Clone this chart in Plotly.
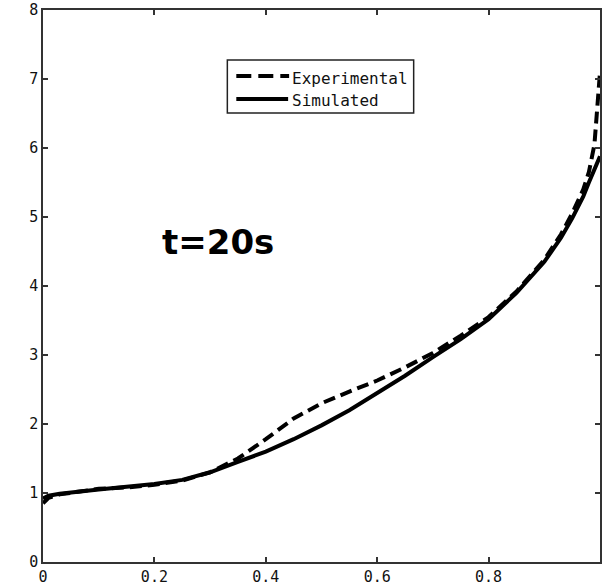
import plotly.graph_objects as go

# Normalised position along the sample and the measured / computed profile
x_exp = [0, 0.01, 0.03, 0.06, 0.1, 0.15, 0.2, 0.25, 0.3, 0.35, 0.38, 0.4, 0.45,
         0.5, 0.55, 0.6, 0.65, 0.7, 0.75, 0.8, 0.85, 0.9, 0.93, 0.95, 0.97,
         0.98, 0.99, 0.995, 1.0]
y_exp = [0.85, 0.93, 0.98, 1.02, 1.06, 1.08, 1.12, 1.18, 1.30, 1.50, 1.66, 1.78,
         2.08, 2.30, 2.47, 2.63, 2.82, 3.03, 3.28, 3.55, 3.92, 4.38, 4.75, 5.05,
         5.40, 5.65, 6.05, 6.50, 7.10]

x_sim = [0, 0.01, 0.03, 0.06, 0.1, 0.15, 0.2, 0.25, 0.3, 0.35, 0.4, 0.45, 0.5,
         0.55, 0.6, 0.65, 0.7, 0.75, 0.8, 0.85, 0.9, 0.93, 0.95, 0.97, 0.98,
         0.99, 1.0]
y_sim = [0.92, 0.96, 0.99, 1.02, 1.05, 1.09, 1.13, 1.19, 1.30, 1.45, 1.60, 1.78,
         1.98, 2.20, 2.45, 2.70, 2.97, 3.23, 3.52, 3.90, 4.35, 4.70, 4.98, 5.30,
         5.50, 5.70, 5.88]

x_ticks = [0, 0.2, 0.4, 0.6, 0.8, 1]
x_tick_text = ["0", "0.2", "0.4", "0.6", "0.8", "1"]
y_ticks = [0, 1, 2, 3, 4, 5, 6, 7, 8]
y_tick_text = ["0", "1", "2", "3", "4", "5", "6", "7", "8"]

series_names = ["Experimental", "Simulated"]
label_text = "t=20s"

W, H = 603, 587
ML, MR, MT, MB = 43, 1, 10, 25
PW, PH = W - ML - MR, H - MT - MB


def px(xp):
    return (xp - ML) / PW


def py(yp):
    return (H - MB - yp) / PH


fig = go.Figure()
fig.add_trace(go.Scatter(x=x_exp, y=y_exp, mode="lines", name=series_names[0],
                         line=dict(color="black", width=4, dash="12px,6px")))
fig.add_trace(go.Scatter(x=x_sim, y=y_sim, mode="lines", name=series_names[1],
                         line=dict(color="black", width=4)))

tick_font = dict(family="DejaVu Sans Mono", size=15, color="#111")
axis_common = dict(showline=True, linecolor="#333", linewidth=1.5,
                   mirror="ticks", ticks="inside", ticklen=5, tickcolor="#333",
                   tickwidth=1.5, showgrid=False, zeroline=False,
                   tickfont=tick_font)
fig.update_xaxes(range=[0, 1], tickvals=x_ticks, ticktext=x_tick_text, **axis_common)
fig.update_yaxes(range=[0, 8], tickvals=y_ticks, ticktext=y_tick_text, **axis_common)

# Hand-drawn legend box with long sample lines
shapes = [
    dict(type="rect", xref="paper", yref="paper",
         x0=px(228), x1=px(415), y0=py(113), y1=py(60),
         line=dict(color="#222", width=1.5), fillcolor="white"),
    dict(type="line", xref="paper", yref="paper",
         x0=px(237), x1=px(290), y0=py(76), y1=py(76),
         line=dict(color="black", width=4, dash="15px,7px")),
    dict(type="line", xref="paper", yref="paper",
         x0=px(237), x1=px(289), y0=py(99), y1=py(99),
         line=dict(color="black", width=4)),
]
legend_font = dict(family="DejaVu Sans Mono", size=16, color="#111")
annotations = [
    dict(text=series_names[0], xref="paper", yref="paper", x=px(291), y=py(78),
         xanchor="left", yanchor="middle", showarrow=False, font=legend_font),
    dict(text=series_names[1], xref="paper", yref="paper", x=px(291), y=py(101),
         xanchor="left", yanchor="middle", showarrow=False, font=legend_font),
    dict(text="<b>" + label_text + "</b>", xref="paper", yref="paper",
         x=px(219), y=py(242), xanchor="center", yanchor="middle",
         showarrow=False,
         font=dict(family="DejaVu Sans", size=34, color="black")),
]

fig.update_layout(
    width=W, height=H,
    margin=dict(l=ML, r=MR, t=MT, b=MB),
    paper_bgcolor="white", plot_bgcolor="white",
    showlegend=False,
    shapes=shapes, annotations=annotations,
)

fig.write_html("out.html")
